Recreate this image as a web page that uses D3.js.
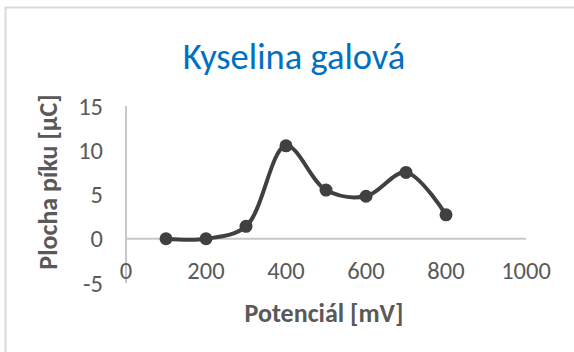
<!DOCTYPE html>
<html>
<head>
<meta charset="utf-8">
<script src="https://cdn.jsdelivr.net/npm/d3@7"></script>
<style>
  body { margin: 0; background: #fff; }
  svg { display: block; font-family: Carlito, Calibri, "Open Sans", sans-serif; }
</style>
</head>
<body>
<svg id="chart" width="574" height="352"></svg>
<script>
var potential = [100, 200, 300, 400, 500, 600, 700, 800];
var area = [0, 0, 1.4, 10.5, 5.5, 4.8, 7.5, 2.7];
var xTicks = [0, 200, 400, 600, 800, 1000];
var yTicks = [-5, 0, 5, 10, 15];

var svg = d3.select("#chart");

// chart frame (only top and left edges visible in the crop)
svg.append("rect")
  .attr("x", 5.5).attr("y", 7.5)
  .attr("width", 600).attr("height", 400)
  .attr("fill", "#fff")
  .attr("stroke", "#d9d9d9")
  .attr("stroke-width", 2);

var x = d3.scaleLinear().domain([0, 1000]).range([126, 526]);
var y = d3.scaleLinear().domain([-5, 15]).range([283, 106]);

// axis lines
svg.append("line")
  .attr("x1", x(0)).attr("x2", x(1000))
  .attr("y1", y(0)).attr("y2", y(0))
  .attr("stroke", "#c8c8c8").attr("stroke-width", 2);
svg.append("line")
  .attr("x1", x(0)).attr("x2", x(0))
  .attr("y1", y(15)).attr("y2", y(-5))
  .attr("stroke", "#c8c8c8").attr("stroke-width", 2);

// tick labels
svg.selectAll(".ylab")
  .data(yTicks)
  .enter()
  .append("text")
  .attr("class", "ylab")
  .attr("x", 103)
  .attr("y", function (d) { return y(d); })
  .attr("dy", "0.35em")
  .attr("text-anchor", "end")
  .style("font-size", "24.5px")
  .style("fill", "#595959")
  .text(function (d) { return d; });

svg.selectAll(".xlab")
  .data(xTicks)
  .enter()
  .append("text")
  .attr("class", "xlab")
  .attr("x", function (d) { return x(d); })
  .attr("y", 270.5)
  .attr("dy", "0.35em")
  .attr("text-anchor", "middle")
  .style("font-size", "24.5px")
  .style("fill", "#595959")
  .text(function (d) { return d; });

// series
var line = d3.line()
  .x(function (d, i) { return x(potential[i]); })
  .y(function (d) { return y(d); })
  .curve(d3.curveCatmullRom.alpha(0.5));

svg.append("path")
  .datum(area)
  .attr("d", line)
  .attr("fill", "none")
  .attr("stroke", "#404040")
  .attr("stroke-width", 4);

svg.selectAll(".pt")
  .data(area)
  .enter()
  .append("circle")
  .attr("class", "pt")
  .attr("cx", function (d, i) { return x(potential[i]); })
  .attr("cy", function (d) { return y(d); })
  .attr("r", 6.5)
  .attr("fill", "#404040");

// titles
svg.append("text")
  .attr("x", 294).attr("y", 69)
  .attr("text-anchor", "middle")
  .style("font-size", "36.5px")
  .style("fill", "#0070c0")
  .text("Kyselina galová");

svg.append("text")
  .attr("x", 324).attr("y", 322)
  .attr("text-anchor", "middle")
  .style("font-size", "26px")
  .style("font-weight", "bold")
  .style("fill", "#595959")
  .text("Potenciál [mV]");

svg.append("text")
  .attr("transform", "translate(57,182)rotate(-90)")
  .attr("text-anchor", "middle")
  .style("font-size", "26px")
  .style("font-weight", "bold")
  .style("fill", "#595959")
  .text("Plocha píku [µC]");
</script>
</body>
</html>
